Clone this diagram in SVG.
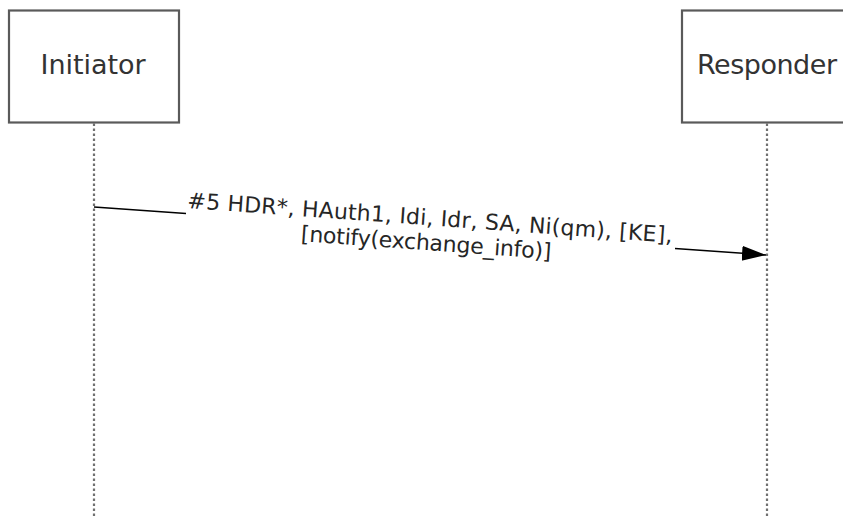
<svg xmlns="http://www.w3.org/2000/svg" width="843" height="518" viewBox="0 0 843 518">
<style>
.box{fill:#ffffff;stroke:#5a5a5a;stroke-width:2.2}
.nodetext{font-family:"DejaVu Sans","Liberation Sans",sans-serif;font-size:27px;fill:#333333;text-anchor:middle}
.life{stroke:#707070;stroke-width:2.2;stroke-dasharray:2.5 2.5;fill:none}
.msg{stroke:#000000;stroke-width:1.5;fill:none}
.label{font-family:"DejaVu Sans","Liberation Sans",sans-serif;font-size:22px;fill:#262626;text-anchor:middle}
</style>
<defs>
<marker id="arrow" markerUnits="userSpaceOnUse" markerWidth="26" markerHeight="16" refX="24" refY="7.5" orient="auto">
<path d="M0,0 L24,7.5 L0,15 Z" fill="#000000"/>
</marker>
</defs>
<rect width="843" height="518" fill="#ffffff"/>
<g id="connectors">
<line class="life" x1="94" y1="123.5" x2="94" y2="518"/>
<line class="life" x1="767" y1="123.5" x2="767" y2="518"/>
<path class="msg" d="M94,207 L186,213.6 M675,248.5 L766,255" marker-end="url(#arrow)"/>
<g transform="translate(429.5,225.3) rotate(4.09)">
<text class="label" x="0" y="0" textLength="486" lengthAdjust="spacing">#5 HDR*, HAuth1, Idi, Idr, SA, Ni(qm), [KE],</text>
<text class="label" x="-2" y="25" textLength="251" lengthAdjust="spacing">[notify(exchange_info)]</text>
</g>
</g>
<g id="initiator">
<rect class="box" x="9" y="10.5" width="170" height="112"/>
<text class="nodetext" x="93" y="74" textLength="105" lengthAdjust="spacing">Initiator</text>
</g>
<g id="responder">
<rect class="box" x="682" y="10.5" width="170" height="112"/>
<text class="nodetext" x="767" y="74" textLength="140" lengthAdjust="spacing">Responder</text>
</g>
</svg>
